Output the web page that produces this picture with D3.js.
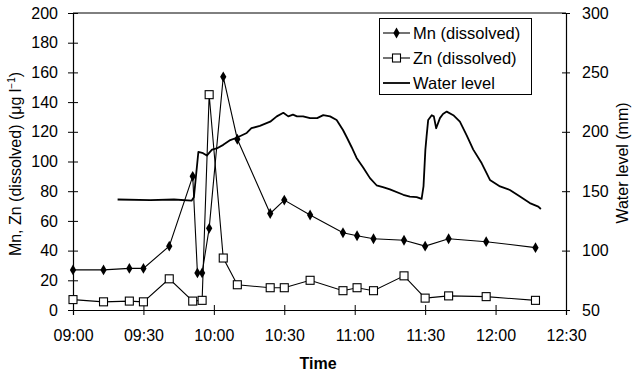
<!DOCTYPE html>
<html><head><meta charset="utf-8">
<script src="https://cdn.jsdelivr.net/npm/d3@7"></script>
<style>
html,body{margin:0;padding:0;background:#fff;}
svg text{font-family:"Liberation Sans",Arial,sans-serif;fill:#000;}
</style></head>
<body><svg id="chart" width="635" height="376"></svg>
<script>
// ---- data ----
const mnTimes = ["09:00","09:13","09:24","09:30","09:41","09:51","09:53","09:55","09:58","10:04","10:10","10:24","10:30","10:41","10:55","11:01","11:08","11:21","11:30","11:40","11:56","12:17"];
const mnValues = [27, 27, 28, 28, 43, 90, 25, 25, 55, 157, 115, 65, 74, 64, 52, 50, 48, 47, 43, 48, 46, 42];
const znTimes = ["09:00","09:13","09:24","09:30","09:41","09:51","09:55","09:58","10:04","10:10","10:24","10:30","10:41","10:55","11:01","11:08","11:21","11:30","11:40","11:56","12:17"];
const znValues = [7, 5.5, 6, 5.5, 21, 6, 6.5, 145, 35, 17, 15, 15, 20, 13, 15, 13, 23, 8, 9.5, 9, 6.5];
const waterMinutes = [19,33,43,50.5,51.5,52,53.4,55.4,57,59.2,61.2,64,67,69.7,74,76,79.6,84,86.8,89.6,91.7,93.7,95.4,98,101,104,106.6,109.5,112.3,115,116.7,118.7,120.8,123.6,126.5,129.3,132,135,140.7,143.5,146.4,148.5,149.3,150.1,150.6,151.3,152.8,153.7,154.7,156.3,157.6,159.2,162,164.8,167.7,170.5,174.1,177.6,181.9,186.1,190.4,194.6,198.2,199.3];
const waterLevel = [143,142.5,143,142,145,155,183,182,180,185,186,189,193,195,199,203,205,208.5,213,216,213,214.5,213,213,211.5,211.5,214,213,210,201.5,195,187,178,170,161,155,153.5,151.5,147,145.5,145,143.5,154,185,196,210,214,213,203,211.5,215,217,214,208.5,197,185,173.5,159.5,154,151,145.5,140,137,135];
const xTickLabels = ["09:00","09:30","10:00","10:30","11:00","11:30","12:00","12:30"];
const leftTicks = [0,20,40,60,80,100,120,140,160,180,200];
const rightTicks = [50,100,150,200,250,300];
const legendLabels = ["Mn (dissolved)","Zn (dissolved)","Water level"];

// ---- helpers ----
const parseT = s => { const [h,m] = s.split(":").map(Number); return new Date(2000,0,1,h,m); };
const base = parseT("09:00");
const fromMin = m => new Date(base.getTime() + m*60000);

const svg = d3.select("#chart");
const L = 73, R = 566, T = 13, B = 310;
const x = d3.scaleTime().domain([parseT("09:00"), parseT("12:30")]).range([L, R]);
const yL = d3.scaleLinear().domain([0,200]).range([B, T]);
const yR = d3.scaleLinear().domain([50,300]).range([B, T]);

// frame line (top border)
svg.append("line").attr("x1",L).attr("x2",R).attr("y1",T).attr("y2",T).attr("stroke","#000").attr("stroke-width",1);

// axes
const fs = "16px";
const xAxis = d3.axisBottom(x).tickValues(xTickLabels.map(parseT)).tickFormat(d3.timeFormat("%H:%M")).tickSize(5).tickPadding(15);
const gx = svg.append("g").attr("transform",`translate(0,${B})`).call(xAxis);
gx.selectAll(".tick line").attr("y1",-5);
gx.selectAll("text").style("font-size",fs);

const gl = svg.append("g").attr("transform",`translate(${L},0)`).call(d3.axisLeft(yL).tickValues(leftTicks).tickSize(5).tickPadding(10));
gl.selectAll(".tick line").attr("x1",5);
gl.selectAll("text").style("font-size",fs);

const gr = svg.append("g").attr("transform",`translate(${R},0)`).call(d3.axisRight(yR).tickValues(rightTicks).tickSize(4).tickPadding(12));
gr.selectAll(".tick line").attr("x1",-4);
gr.selectAll("text").style("font-size",fs);

svg.selectAll(".domain").attr("stroke","#000").attr("stroke-width",1.2);
svg.selectAll(".tick line").attr("stroke","#000");

// axis titles
svg.append("text").attr("x",318).attr("y",369).attr("text-anchor","middle").style("font-size","16px").style("font-weight","bold").text("Time");
const lt = svg.append("text").attr("transform","translate(21,164) rotate(-90)").attr("text-anchor","middle").style("font-size","16px");
lt.append("tspan").text("Mn, Zn (dissolved) (μg l");
lt.append("tspan").attr("dy",-6).style("font-size","10px").text("−1");
lt.append("tspan").attr("dy",6).text(")");
svg.append("text").attr("transform","translate(628,163) rotate(-90)").attr("text-anchor","middle").style("font-size","16px").text("Water level (mm)");

// data series
const water = waterMinutes.map((m,i)=>({t:fromMin(m), v:waterLevel[i]}));
const mn = mnTimes.map((s,i)=>({t:parseT(s), v:mnValues[i]}));
const zn = znTimes.map((s,i)=>({t:parseT(s), v:znValues[i]}));

svg.append("path").datum(water).attr("fill","none").attr("stroke","#000").attr("stroke-width",1.8)
  .attr("stroke-linejoin","round")
  .attr("d", d3.line().x(d=>x(d.t)).y(d=>yR(d.v)));

svg.append("path").datum(mn).attr("fill","none").attr("stroke","#000").attr("stroke-width",1.1)
  .attr("d", d3.line().x(d=>x(d.t)).y(d=>yL(d.v)));
svg.append("path").datum(zn).attr("fill","none").attr("stroke","#000").attr("stroke-width",1.1)
  .attr("d", d3.line().x(d=>x(d.t)).y(d=>yL(d.v)));

const diamond = d3.symbol().type(d3.symbolDiamond).size(34)();
svg.selectAll(".mn").data(mn).join("path").attr("d",diamond)
  .attr("transform",d=>`translate(${x(d.t)},${yL(d.v)})`).attr("fill","#000");
svg.selectAll(".zn").data(zn).join("rect")
  .attr("x",d=>x(d.t)-4).attr("y",d=>yL(d.v)-4).attr("width",8).attr("height",8)
  .attr("fill","#fff").attr("stroke","#000").attr("stroke-width",1.1);

// legend
const lg = svg.append("g");
lg.append("rect").attr("x",379.5).attr("y",18.5).attr("width",152).attr("height",76).attr("fill","#fff").attr("stroke","#000").attr("stroke-width",1);
const rowsY = [33,58,83];
legendLabels.forEach((lab,i)=>{
  const yy = rowsY[i];
  lg.append("line").attr("x1",383).attr("x2",410).attr("y1",yy).attr("y2",yy).attr("stroke","#000").attr("stroke-width", i===2?1.8:1.1);
  if(i===0) lg.append("path").attr("d",diamond).attr("transform",`translate(396.5,${yy})`).attr("fill","#000");
  if(i===1) lg.append("rect").attr("x",392.5).attr("y",yy-4).attr("width",8).attr("height",8).attr("fill","#fff").attr("stroke","#000").attr("stroke-width",1.1);
  lg.append("text").attr("x",413).attr("y",yy+6).style("font-size","16.5px").text(lab);
});
</script></body></html>
